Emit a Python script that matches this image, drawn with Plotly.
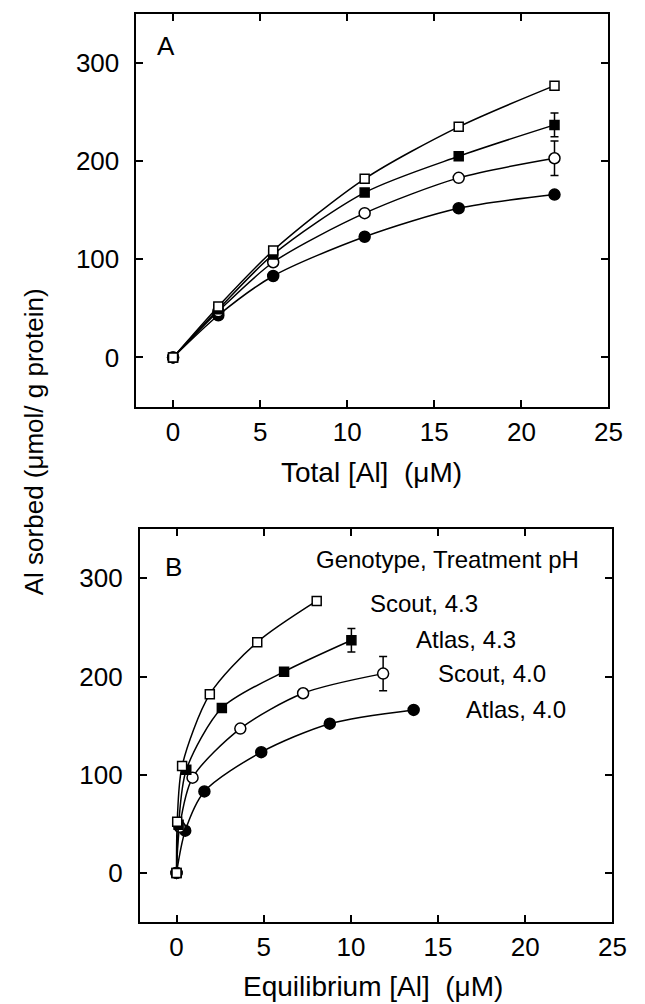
import plotly.graph_objects as go

# ---- data ----
total_al = [0, 2.6, 5.75, 11.0, 16.4, 21.9]
eq_scout43 = [0, 0.04, 0.32, 1.91, 4.63, 8.04]
eq_atlas43 = [0, 0.12, 0.56, 2.6, 6.17, 10.03]
eq_scout40 = [0, 0.18, 0.92, 3.66, 7.26, 11.85]
eq_atlas40 = [0, 0.5, 1.6, 4.86, 8.79, 13.6]

scout43 = [0, 52, 109, 182, 235, 277]
atlas43 = [0, 49, 105, 168, 205, 237]
scout40 = [0, 47, 97, 147, 183, 203]
atlas40 = [0, 43, 83, 123, 152, 166]

err_scout43 = [None, None, None, None, None, 4]
err_atlas43 = [None, None, None, None, None, 12]
err_scout40 = [None, None, None, None, None, 17.5]
err_atlas40 = [None, None, None, None, None, None]

series_names = ["Atlas, 4.0", "Scout, 4.0", "Atlas, 4.3", "Scout, 4.3"]
y_ticks = [0, 100, 200, 300]
x_ticks = [0, 5, 10, 15, 20, 25]

W, H = 645, 1004
FONT = "Liberation Sans, Arial, Helvetica, sans-serif"

styles = {
    "Atlas, 4.0": dict(symbol="circle", color="black", size=11),
    "Scout, 4.0": dict(symbol="circle", color="white", size=11),
    "Atlas, 4.3": dict(symbol="square", color="black", size=9),
    "Scout, 4.3": dict(symbol="square", color="white", size=9),
}
ys = {"Atlas, 4.0": atlas40, "Scout, 4.0": scout40, "Atlas, 4.3": atlas43, "Scout, 4.3": scout43}
errs = {"Atlas, 4.0": err_atlas40, "Scout, 4.0": err_scout40, "Atlas, 4.3": err_atlas43, "Scout, 4.3": err_scout43}
eqs = {"Atlas, 4.0": eq_atlas40, "Scout, 4.0": eq_scout40, "Atlas, 4.3": eq_atlas43, "Scout, 4.3": eq_scout43}

fig = go.Figure()

for name in series_names:
    st = styles[name]
    for xs, xa, ya in [(total_al, "x", "y"), (eqs[name], "x2", "y2")]:
        fig.add_trace(go.Scatter(
            x=xs, y=ys[name], xaxis=xa, yaxis=ya, name=name, showlegend=False,
            mode="lines+markers",
            line=dict(color="black", width=1.5, shape="spline", smoothing=0.8),
            marker=dict(symbol=st["symbol"], size=st["size"], color=st["color"],
                        line=dict(color="black", width=1.5)),
            error_y=dict(type="data", array=errs[name], visible=True,
                         color="black", thickness=1.5, width=4),
        ))

def px_x(p):
    return p / W

def px_y(p):
    return 1 - p / H

axis_common = dict(
    showline=True, linecolor="black", linewidth=2, mirror="ticks",
    ticks="inside", ticklen=7, tickwidth=2, tickcolor="black",
    showgrid=False, zeroline=False,
    tickfont=dict(family=FONT, size=26, color="black"),
)

fig.update_layout(
    width=W, height=H, autosize=False,
    margin=dict(l=0, r=0, t=0, b=0),
    paper_bgcolor="white", plot_bgcolor="white",
    font=dict(family=FONT, color="black"),
    xaxis=dict(domain=[px_x(139.5), px_x(622)], range=[-2.1, 25], tickvals=x_ticks,
               anchor="y", ticklabelstandoff=1, ticklabeloverflow="allow", **axis_common),
    yaxis=dict(domain=[px_y(406.5), px_y(14)], range=[-50, 350], tickvals=y_ticks,
               anchor="x", ticklabelstandoff=10, **axis_common),
    xaxis2=dict(domain=[px_x(143), px_x(626)], range=[-2.1, 25], tickvals=x_ticks,
                anchor="y2", ticklabelstandoff=1, ticklabeloverflow="allow", **axis_common),
    yaxis2=dict(domain=[px_y(922), px_y(529.3)], range=[-50, 350], tickvals=y_ticks,
                anchor="x2", ticklabelstandoff=10, **axis_common),
)

ann_font = dict(family=FONT, size=24, color="black")
label_font = dict(family=FONT, size=26, color="black")
xtitle_font = dict(family=FONT, size=28, color="black")

annotations = [
    dict(text="A", x=-1.05, y=317, xref="x", yref="y", xanchor="left", yanchor="middle",
         showarrow=False, font=label_font),
    dict(text="B", x=-0.8, y=312, xref="x2", yref="y2", xanchor="left", yanchor="middle",
         showarrow=False, font=label_font),
    dict(text="Genotype, Treatment pH", x=7.9, y=319, xref="x2", yref="y2",
         xanchor="left", yanchor="middle", showarrow=False, font=ann_font),
    dict(text="Scout, 4.3", x=11.0, y=274, xref="x2", yref="y2",
         xanchor="left", yanchor="middle", showarrow=False, font=ann_font),
    dict(text="Atlas, 4.3", x=13.6, y=237.6, xref="x2", yref="y2",
         xanchor="left", yanchor="middle", showarrow=False, font=ann_font),
    dict(text="Scout, 4.0", x=14.9, y=203, xref="x2", yref="y2",
         xanchor="left", yanchor="middle", showarrow=False, font=ann_font),
    dict(text="Atlas, 4.0", x=16.5, y=166, xref="x2", yref="y2",
         xanchor="left", yanchor="middle", showarrow=False, font=ann_font),
    dict(text="Total [Al]  (\u03bcM)", x=px_x(380), y=px_y(472), xref="paper", yref="paper",
         xanchor="center", yanchor="middle", showarrow=False, font=xtitle_font),
    dict(text="Equilibrium [Al]  (\u03bcM)", x=px_x(381), y=px_y(986), xref="paper", yref="paper",
         xanchor="center", yanchor="middle", showarrow=False, font=xtitle_font),
    dict(text="Al sorbed (\u03bcmol/ g protein)", x=px_x(35), y=px_y(442), xref="paper", yref="paper",
         xanchor="center", yanchor="middle", textangle=-90, showarrow=False, font=label_font),
]
fig.update_layout(annotations=annotations)

fig.write_html(
    "out.html",
    config={"responsive": False, "displayModeBar": False},
    post_script="document.body.style.margin='0px';document.body.style.padding='0px';"
                "document.documentElement.style.overflow='hidden';",
)
